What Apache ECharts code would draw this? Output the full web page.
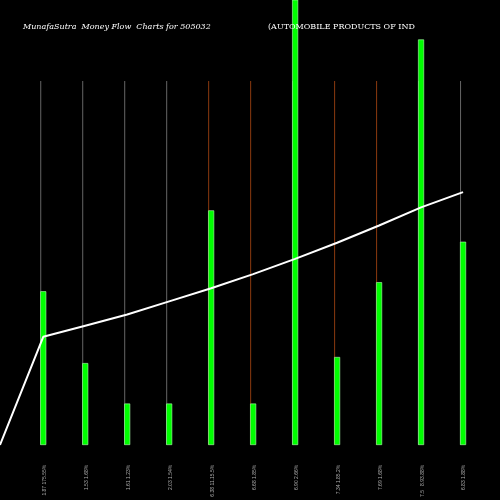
<!DOCTYPE html><html><head><script src="https://cdn.jsdelivr.net/npm/echarts@6/dist/echarts.min.js"></script></head>
<body style="margin:0;background:#000"><div id="c" style="width:500px;height:500px"></div><script>
const categories=["1.87 175.55%","1.53 1.68%","1.61 1.23%","2.03 1.54%","6.38 11.15.5%","6.68 1.85%","6.90 2.66%","7.34 1.85.2%","7.69 1.68%","7.5   8.93.88%","6.83 1.88%"];
const flow=[152,81,41,41,232,41,470,87,161,401,201];
const stems=[360,360,360,360,360,360,360,360,360,360,360];
const stemColors=["#666","#666","#666","#666","#8b3a0f","#8b3a0f","#666","#8b3a0f","#8b3a0f","#666","#666"];
const lineX=[-1.03,0,1,2,3,4,5,6,7,8,9,10];
const lineY=[0,107,118,129,142,155,169,184,200,217,235,250];
const c=echarts.init(document.getElementById('c'));
c.setOption({backgroundColor:'#000',animation:false,
title:[{text:'MunafaSutra  Money Flow  Charts for 505032',left:18,top:14,textStyle:{color:'#fff',fontSize:8,fontFamily:'DejaVu Serif',fontStyle:'italic',fontWeight:'normal'}},
{text:'(AUTOMOBILE PRODUCTS OF IND',left:263,top:14,textStyle:{color:'#fff',fontSize:8,fontFamily:'DejaVu Serif',fontWeight:'normal'}}],
grid:[{left:0,right:0,top:0,bottom:55},{left:24,right:15,top:0,bottom:55}],
xAxis:[{type:'value',min:-1.03,max:10.88,show:false,gridIndex:0},
{type:'category',gridIndex:1,data:categories,axisLine:{show:false},axisTick:{show:false},axisLabel:{rotate:90,color:'#aaa',fontSize:5,margin:27,interval:0}}],
yAxis:[{type:'value',min:0,max:440,show:false,gridIndex:0},{type:'value',min:0,max:440,show:false,gridIndex:1}],
series:[
{type:'bar',data:stems.map((v,i)=>({value:[i,v],itemStyle:{color:stemColors[i]}})),barWidth:1,barGap:'-100%',z:1},
{type:'bar',data:flow.map((v,i)=>[i,v]),barWidth:6,itemStyle:{color:'#00ff00',borderColor:'#b0ffb0',borderWidth:0.6},z:2},
{type:'line',data:lineX.map((x,i)=>[x,lineY[i]]),symbol:'none',lineStyle:{color:'#fff',width:2},z:3}
]});
</script></body></html>
